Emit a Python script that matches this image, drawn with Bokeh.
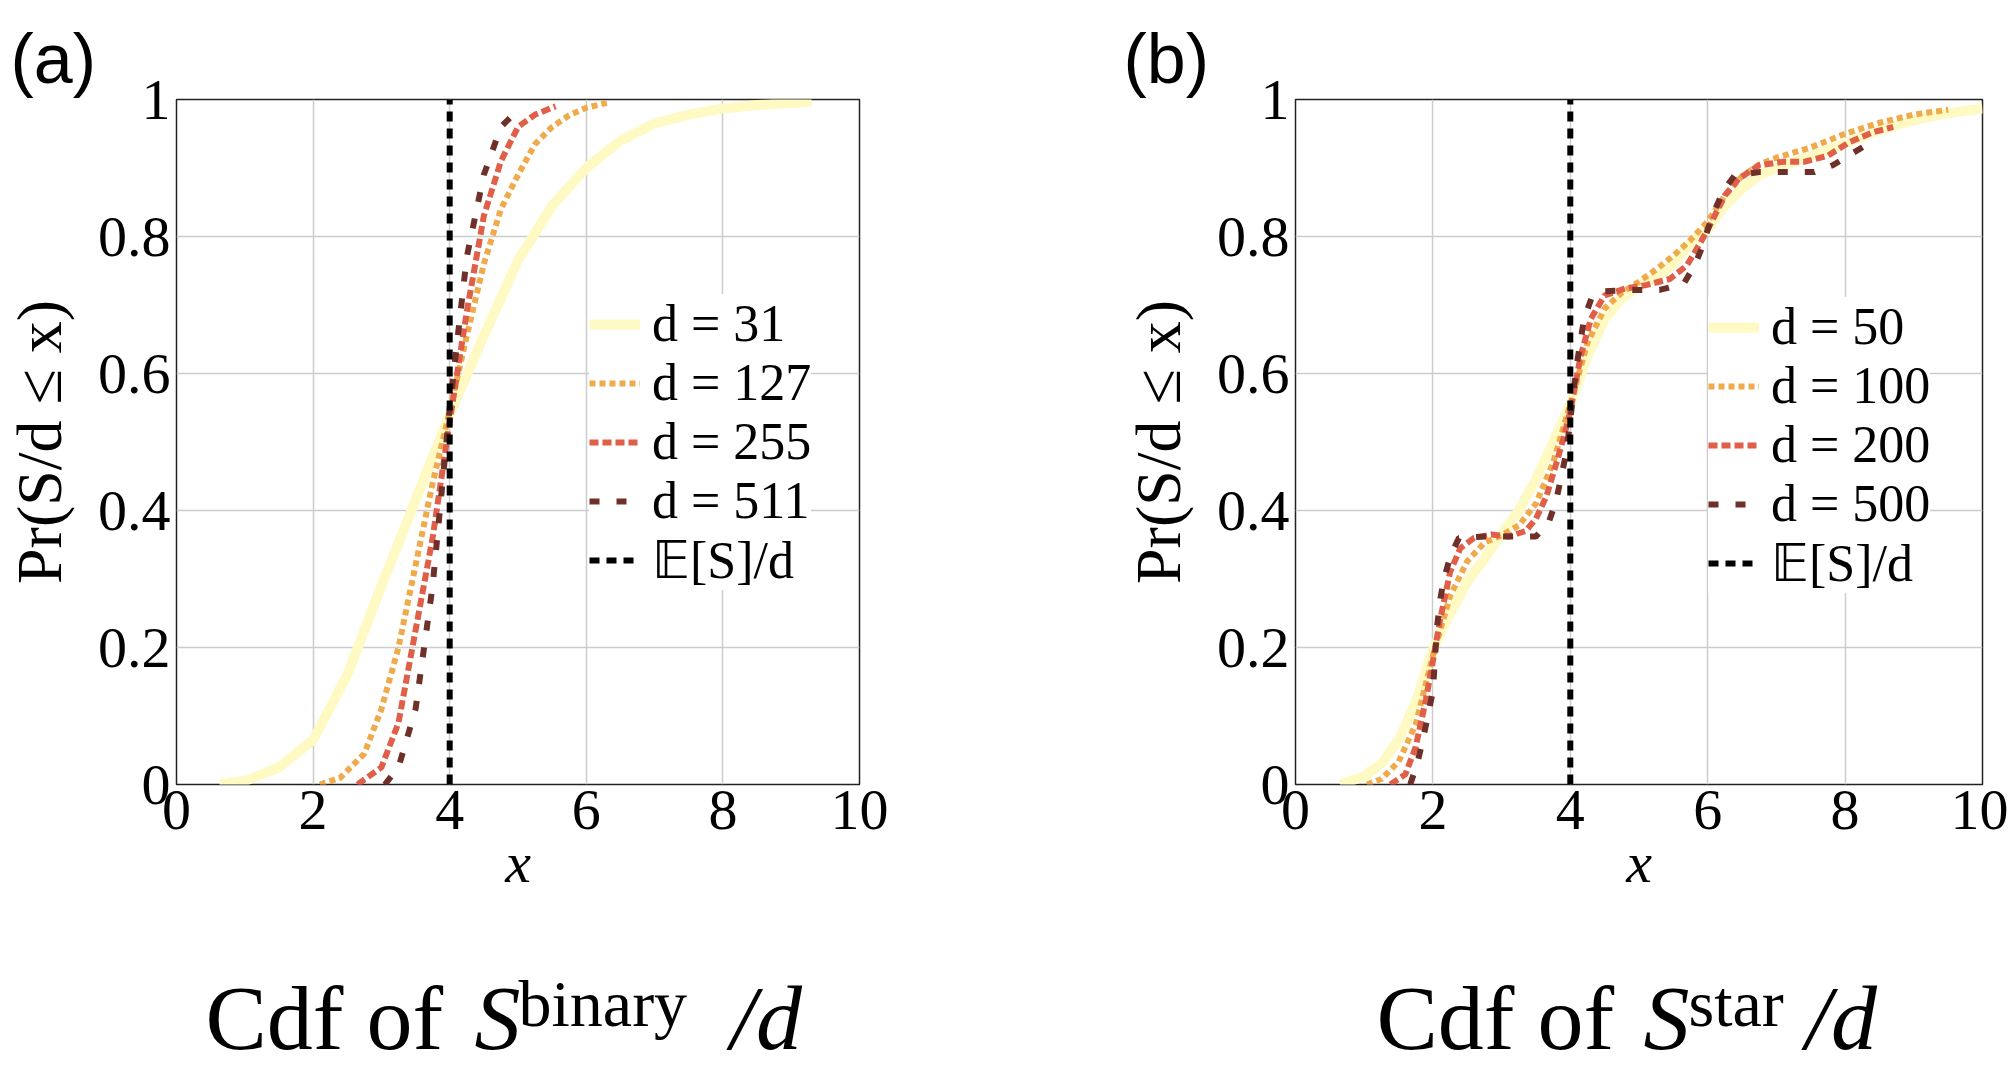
from bokeh.plotting import figure
from bokeh.layouts import row, column
from bokeh.models import FixedTicker, Legend, LegendItem, Range1d
from bokeh.core.properties import value
from bokeh.embed import file_html
from bokeh.resources import INLINE

# ---------------- data ----------------
x_ticks = [0, 2, 4, 6, 8, 10]
x_tick_labels = ["0", "2", "4", "6", "8", "10"]
y_ticks = [0, 0.2, 0.4, 0.6, 0.8, 1]
y_tick_labels = ["0", "0.2", "0.4", "0.6", "0.8", "1"]
mean_x = [4, 4]
mean_y = [0, 1]

# panel (a): Cdf of S_binary / d
a_labels = ["d = 31", "d = 127", "d = 255", "d = 511"]
a_d31_x = [0.63, 1.0, 1.5, 2.0, 2.5, 3.0, 3.5, 4.0, 4.5, 5.0, 5.5, 6.0, 6.5, 7.0, 7.5, 8.0, 8.5, 9.0, 9.3]
a_d31_y = [0, 0.005, 0.025, 0.065, 0.16, 0.29, 0.415, 0.54, 0.655, 0.765, 0.845, 0.90, 0.94, 0.965, 0.978, 0.987, 0.992, 0.995, 0.997]
a_d127_x = [2.1, 2.4, 2.75, 3.0, 3.25, 3.5, 3.75, 4.0, 4.25, 4.5, 4.75, 5.0, 5.25, 5.5, 5.75, 6.0, 6.3]
a_d127_y = [0, 0.01, 0.045, 0.11, 0.20, 0.32, 0.44, 0.545, 0.655, 0.76, 0.84, 0.89, 0.935, 0.96, 0.977, 0.988, 0.995]
a_d255_x = [2.65, 3.0, 3.25, 3.5, 3.75, 4.0, 4.25, 4.5, 4.75, 5.0, 5.25, 5.55]
a_d255_y = [0, 0.025, 0.09, 0.225, 0.36, 0.53, 0.69, 0.83, 0.91, 0.96, 0.978, 0.99]
a_d511_x = [3.05, 3.25, 3.5, 3.75, 4.0, 4.25, 4.5, 4.75, 5.0]
a_d511_y = [0, 0.025, 0.11, 0.29, 0.55, 0.77, 0.89, 0.96, 0.985]

# panel (b): Cdf of S_star / d
b_labels = ["d = 50", "d = 100", "d = 200", "d = 500"]
b_d50_x = [0.65, 1.0, 1.25, 1.5, 1.75, 2.0, 2.25, 2.5, 2.75, 3.0, 3.25, 3.5, 3.75, 4.0, 4.25, 4.5, 4.75,
           5.0, 5.25, 5.5, 5.75, 6.0, 6.25, 6.5, 6.75, 7.0, 7.5, 8.0, 8.5, 9.0, 9.5, 10.0]
b_d50_y = [0, 0.012, 0.03, 0.065, 0.12, 0.197, 0.25, 0.296, 0.33, 0.365, 0.40, 0.445, 0.50, 0.555, 0.625,
           0.68, 0.71, 0.728, 0.74, 0.76, 0.79, 0.81, 0.845, 0.87, 0.89, 0.90, 0.917, 0.936, 0.955, 0.97, 0.98, 0.987]
b_d100_x = [1.04, 1.25, 1.5, 1.75, 2.0, 2.25, 2.5, 2.75, 3.0, 3.25, 3.5, 3.75, 4.0, 4.25, 4.5, 4.75, 5.0,
            5.25, 5.5, 5.75, 6.0, 6.25, 6.5, 6.75, 7.0, 7.5, 8.0, 8.5, 9.0, 9.5]
b_d100_y = [0, 0.008, 0.033, 0.088, 0.188, 0.275, 0.326, 0.353, 0.364, 0.378, 0.41, 0.47, 0.555, 0.645,
            0.695, 0.718, 0.734, 0.752, 0.772, 0.795, 0.822, 0.86, 0.888, 0.905, 0.915, 0.93, 0.95, 0.966, 0.978, 0.985]
b_d200_x = [1.38, 1.6, 1.75, 1.9, 2.0, 2.1, 2.25, 2.4, 2.6, 2.85, 3.1, 3.35, 3.5, 3.65, 3.8, 3.9, 4.0, 4.15,
            4.3, 4.5, 4.8, 5.1, 5.45, 5.7, 5.9, 6.05, 6.25, 6.45, 6.75, 7.1, 7.4, 7.75, 8.05, 8.4, 8.7]
b_d200_y = [0, 0.015, 0.055, 0.125, 0.18, 0.238, 0.31, 0.345, 0.36, 0.365, 0.362, 0.37, 0.388, 0.42, 0.47,
            0.505, 0.545, 0.625, 0.68, 0.714, 0.724, 0.729, 0.738, 0.758, 0.792, 0.82, 0.86, 0.884, 0.904,
            0.909, 0.909, 0.918, 0.937, 0.952, 0.96]
b_d500_x = [1.67, 1.77, 1.85, 1.92, 2.0, 2.06, 2.11, 2.16, 2.26, 2.38, 2.75, 3.1, 3.5, 3.69, 3.79, 3.86, 3.93,
            3.98, 4.09, 4.2, 4.32, 4.5, 4.9, 5.3, 5.65, 5.81, 5.91, 6.0, 6.1, 6.23, 6.39, 6.75, 7.15, 7.55,
            7.82, 8.05, 8.3]
b_d500_y = [0, 0.03, 0.063, 0.097, 0.136, 0.23, 0.272, 0.30, 0.335, 0.36, 0.362, 0.362, 0.362, 0.384, 0.413,
            0.445, 0.479, 0.515, 0.61, 0.68, 0.713, 0.72, 0.722, 0.722, 0.731, 0.758, 0.782, 0.81, 0.838,
            0.867, 0.889, 0.894, 0.894, 0.894, 0.904, 0.918, 0.933]

mean_label = "\U0001D53C[S]/d"

# ---------------- styles ----------------
SERIF = "Liberation Serif"
SANS = "Liberation Sans"
C_YEL = "#fff9c4"
C_ORA = "#efaa4b"
C_RED = "#df5f48"
C_BRN = "#6e3028"
STYLES = [
    dict(line_color=C_YEL, line_width=10, line_dash="solid"),
    dict(line_color=C_ORA, line_width=6, line_dash="6 4"),
    dict(line_color=C_RED, line_width=6, line_dash="9 4"),
    dict(line_color=C_BRN, line_width=6, line_dash="10 17"),
]
MEAN_STYLE = dict(line_color="black", line_width=6, line_dash="10 7")

MAIN_H = 962
TITLE_H = 1067 - MAIN_H


def make_panel(width, mb_left, mb_top, mb_bottom, series, labels, legend_loc,
               panel_letter, letter_offset):
    mb_right = width - mb_left - 687
    p = figure(width=width, height=MAIN_H, x_range=Range1d(0, 10), y_range=Range1d(0, 1),
               output_backend="svg", toolbar_location=None,
               min_border_left=mb_left, min_border_right=mb_right,
               min_border_top=mb_top, min_border_bottom=mb_bottom)
    p.background_fill_color = "white"
    p.border_fill_color = "white"
    p.outline_line_color = "#222222"
    p.outline_line_width = 1.5

    # panel letter as the figure title, top-left
    p.title.text = panel_letter
    p.title.text_font = SANS
    p.title.text_font_size = "70px"
    p.title.text_font_style = "normal"
    p.title.text_color = "black"
    p.title.align = "left"
    p.title.offset = letter_offset
    p.title.standoff = 0
    p.title.vertical_align = "top"

    for ax in (p.xaxis[0], p.yaxis[0]):
        ax.axis_line_color = None
        ax.major_tick_line_color = None
        ax.minor_tick_line_color = None
        ax.major_tick_out = 0
        ax.major_tick_in = 0
        ax.minor_tick_out = 0
        ax.minor_tick_in = 0
        ax.major_label_text_font = SERIF
        ax.major_label_text_font_size = "58px"
        ax.major_label_text_color = "black"
        ax.axis_label_text_font = SERIF
        ax.axis_label_text_color = "black"

    p.xaxis.ticker = FixedTicker(ticks=x_ticks)
    p.xaxis.major_label_overrides = dict(zip(x_ticks, x_tick_labels))
    p.yaxis.ticker = FixedTicker(ticks=y_ticks)
    p.yaxis.major_label_overrides = dict(zip(y_ticks, y_tick_labels))
    p.xaxis.major_label_standoff = 6
    p.yaxis.major_label_standoff = 6
    p.xaxis.axis_label = "x"
    p.xaxis.axis_label_text_font_size = "58px"
    p.xaxis.axis_label_text_font_style = "italic"
    p.xaxis.axis_label_standoff = -2
    p.yaxis.axis_label = "Pr(S/d \u2264 x)"
    p.yaxis.axis_label_text_font_size = "64px"
    p.yaxis.axis_label_text_font_style = "normal"
    p.yaxis.axis_label_standoff = 20

    p.xgrid.grid_line_color = "#cccccc"
    p.ygrid.grid_line_color = "#cccccc"
    p.xgrid.grid_line_width = 1.5
    p.ygrid.grid_line_width = 1.5

    items = []
    for (xs, ys), lab, st in zip(series, labels, STYLES):
        r = p.line(xs, ys, line_cap="butt", **st)
        items.append(LegendItem(label=lab, renderers=[r]))
    rm = p.line(mean_x, mean_y, line_cap="butt", **MEAN_STYLE)
    items.append(LegendItem(label=mean_label, renderers=[rm]))

    legend = Legend(items=items, location=legend_loc, label_text_font=SERIF,
                    label_text_font_size="52px", label_text_color="black",
                    glyph_width=51, glyph_height=20,
                    label_standoff=12, padding=4, spacing=0, margin=0,
                    border_line_color=None, background_fill_color="white",
                    background_fill_alpha=1.0)
    p.add_layout(legend)
    return p


def make_title(width, xs, ys, texts, sizes, styles):
    t = figure(width=width, height=TITLE_H, x_range=Range1d(0, width), y_range=Range1d(0, TITLE_H),
               output_backend="svg", toolbar_location=None,
               min_border_left=0, min_border_right=0, min_border_top=0, min_border_bottom=0)
    t.axis.visible = False
    t.grid.visible = False
    t.outline_line_color = None
    t.background_fill_color = "white"
    t.border_fill_color = "white"
    for x, y, s, fs, st in zip(xs, ys, texts, sizes, styles):
        t.text(x=[x], y=[y], text=[s], text_font=value(SERIF), text_font_size=value(fs),
               text_font_style=st, text_baseline="alphabetic", text_align="left", text_color="black")
    return t


pa = make_panel(1100, 172, 94, 178,
                [(a_d31_x, a_d31_y), (a_d127_x, a_d127_y), (a_d255_x, a_d255_y), (a_d511_x, a_d511_y)],
                a_labels, (413, 194), "(a)", -166)

pb = make_panel(908, 195, 99, 172,
                [(b_d50_x, b_d50_y), (b_d100_x, b_d100_y), (b_d200_x, b_d200_y), (b_d500_x, b_d500_y)],
                b_labels, (413, 191), "(b)", -172)

ta = make_title(1100, [205, 474, 518, 730], [50, 50, 64, 50],
                ["Cdf of", "S", "binary", "/d"], ["92px", "92px", "66px", "92px"],
                ["normal", "italic", "normal", "italic"])
tb = make_title(908, [276, 543, 588, 705], [50, 50, 64, 50],
                ["Cdf of", "S", "star", "/d"], ["92px", "92px", "66px", "92px"],
                ["normal", "italic", "normal", "italic"])

layout = column(row(pa, pb), row(ta, tb))
open("out.html", "w").write(file_html(layout, INLINE))
